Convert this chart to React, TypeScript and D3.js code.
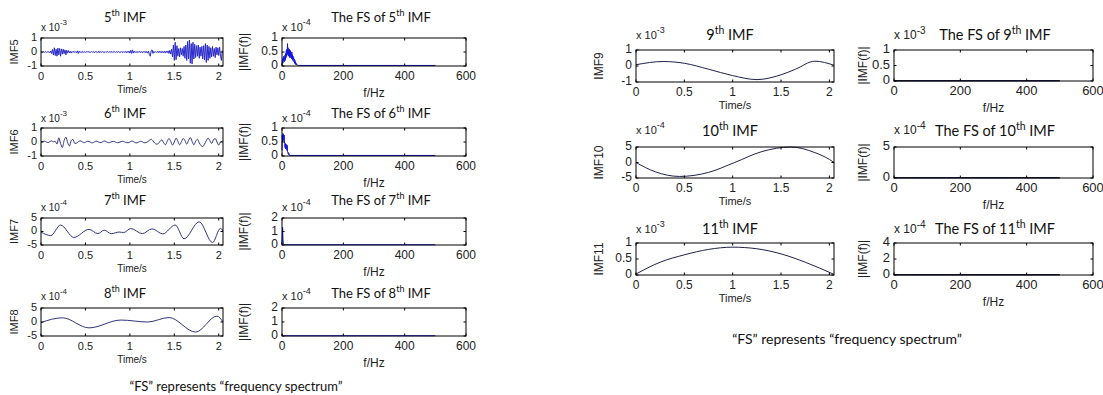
import React from 'react';
import * as d3 from 'd3';

type Pt = [number, number];

// ---- data (amplitudes are in the unit given by each axis exponent) ----
const timeTicks = [0, 0.5, 1, 1.5, 2];
const freqTicks = [0, 200, 400, 600];
const tMax = 2.048;
const fMax = 600;
const fsNyquist = 500;

// IMF5, sampled every 0.01 s (x 10^-3)
const imf5Step = 0.01;
const imf5 = [
  0, 0.02, -0.02, 0.03, -0.02, 0.02, -0.03, 0.02, -0.02, 0.03,
  -0.05, 0.08, -0.12, 0.18, -0.22, 0.3, -0.25, 0.2, -0.3, 0.28,
  -0.2, 0.25, -0.3, 0.22, -0.15, 0.2, -0.12, 0.15, -0.2, 0.12,
  -0.08, 0.1, -0.06, 0.05, -0.08, 0.04, -0.03, 0.05, -0.04, 0.03,
  -0.05, 0.08, -0.1, 0.06, -0.04, 0.03, -0.05, 0.04, -0.03, 0.02,
  -0.03, 0.04, -0.02, 0.05, -0.04, 0.02, -0.03, 0.03, -0.02, 0.04,
  -0.05, 0.03, -0.02, 0.03, -0.04, 0.06, -0.05, 0.03, -0.02, 0.03,
  -0.03, 0.02, -0.04, 0.03, -0.02, 0.04, -0.03, 0.02, -0.03, 0.05,
  -0.04, 0.03, -0.02, 0.03, -0.03, 0.02, -0.04, 0.05, -0.03, 0.02,
  -0.03, 0.04, -0.05, 0.03, -0.02, 0.04, -0.06, 0.05, -0.04, 0.06,
  -0.08, 0.12, -0.1, 0.15, -0.08, 0.06, -0.04, 0.03, -0.05, 0.04,
  -0.03, 0.05, -0.04, 0.03, -0.05, 0.04, -0.03, 0.05, -0.06, 0.04,
  -0.08, 0.06, -0.2, -0.3, 0.1, 0.15, -0.1, 0.05, -0.04, 0.03,
  -0.03, 0.04, -0.05, 0.06, -0.04, 0.05, -0.06, 0.04, -0.05, 0.06,
  -0.08, 0.06, -0.05, 0.08, -0.1, 0.12, -0.15, 0.2, -0.35, 0.5,
  -0.6, 0.7, -0.55, 0.45, -0.3, 0.25, -0.35, 0.3, -0.2, 0.25,
  -0.3, 0.4, -0.45, 0.5, -0.6, 0.75, -0.5, 0.85, -0.8, 0.6,
  -0.85, 0.7, -0.5, 0.55, -0.4, 0.45, -0.3, 0.5, -0.45, 0.35,
  -0.3, 0.4, -0.5, 0.45, -0.55, 0.6, -0.75, 0.5, -0.6, 0.4,
  -0.45, 0.3, -0.35, 0.4, -0.3, 0.25, -0.4, 0.35, -0.2, 0.3,
  -0.25, 0.35, -0.3, -0.6, 0.1,
];

// IMF6, sampled every 0.02 s (x 10^-3)
const imf6Step = 0.02;
const imf6 = [
  0, 0.04, 0.06, 0.0, -0.04, 0.03, 0.08, 0.02, 0.05, -0.15,
  0.3, -0.1, -0.4, 0.1, 0.35, -0.05, -0.28, 0.1, 0.18, -0.1,
  -0.08, 0.02, 0.08, 0.03, -0.05, -0.02, 0.05, 0.04, -0.03, -0.06,
  0.0, 0.06, 0.02, -0.04, -0.03, 0.04, 0.07, 0.0, -0.05, -0.02,
  0.03, 0.05, -0.01, -0.05, -0.03, 0.02, 0.05, 0.01, -0.04, -0.05,
  0.0, 0.06, 0.03, -0.05, -0.06, 0.0, 0.05, 0.02, -0.06, -0.04,
  0.02, 0.12, 0.2, 0.08, -0.08, -0.15, -0.12, 0.05, 0.15, -0.05,
  -0.2, 0.05, 0.25, 0.05, -0.22, 0.0, 0.28, 0.05, -0.2, 0.02,
  0.25, 0.1, -0.15, 0.1, 0.32, 0.05, -0.2, 0.05, 0.2, -0.05,
  -0.25, -0.32, -0.15, 0.1, 0.28, 0.1, -0.1, 0.15, 0.25, 0.0,
  -0.22, 0.0, 0.05,
];

// slower IMFs, read at their turning points [time s, value]
const imf7: Pt[] = [
  [0, -0.2], [0.11, -1.5], [0.22, 2.4], [0.37, -2.2], [0.54, 0.8], [0.64, -0.8],
  [0.71, 0.5], [0.79, -0.8], [0.88, -0.2], [0.93, -0.4], [1.01, 1.1], [1.14, -0.8],
  [1.25, 1.0], [1.37, -0.9], [1.51, 2.4], [1.61, -2.7], [1.78, 3.6], [1.93, -4.1],
  [2.02, 1.2], [2.048, 0.2],
];
const imf8: Pt[] = [
  [0, -0.2], [0.24, 1.5], [0.54, -2.1], [0.9, 0.7], [1.2, 0.0], [1.44, 1.6],
  [1.74, -3.6], [1.98, 2.1], [2.048, 0.0],
];
const imf9: Pt[] = [
  [0, 0.08], [0.28, 0.28], [0.5, 0.17], [0.75, -0.2], [1.0, -0.6], [1.25, -0.85],
  [1.5, -0.55], [1.65, -0.2], [1.85, 0.3], [2.048, 0.05],
];
const imf10: Pt[] = [
  [0, 0], [0.2, -3.0], [0.45, -4.5], [0.75, -3.2], [1.02, 0], [1.3, 3.5],
  [1.6, 5.0], [1.85, 3.2], [2.0, 1.0], [2.048, 0],
];
const imf11: Pt[] = [
  [0, 0.03], [0.25, 0.4], [0.5, 0.63], [0.75, 0.8], [1.0, 0.87], [1.25, 0.82],
  [1.5, 0.66], [1.75, 0.4], [2.048, 0.02],
];

// spectra: low-frequency bins at 1 Hz, then a flat tail up to 500 Hz
const fs5 = [
  0.05, 0.15, 0.25, 0.1, 0.3, 0.2, 0.35, 0.15, 0.3, 0.25,
  0.4, 0.2, 0.45, 0.3, 0.55, 0.35, 0.6, 0.4, 0.8, 0.45,
  0.65, 0.35, 0.55, 0.4, 0.6, 0.3, 0.5, 0.35, 0.55, 0.3,
  0.45, 0.25, 0.5, 0.3, 0.4, 0.2, 0.35, 0.25, 0.3, 0.15,
  0.25, 0.1, 0.2, 0.08, 0.15, 0.05, 0.1, 0.04, 0.06, 0.03,
  0.04, 0.02, 0.03, 0.02, 0.02, 0.02,
];
const fs6 = [
  0.2, 0.75, 0.5, 0.8, 0.6, 0.78, 0.55, 0.75, 0.5, 0.45,
  0.3, 0.45, 0.25, 0.42, 0.3, 0.4, 0.2, 0.38, 0.15, 0.12,
  0.08, 0.12, 0.05, 0.08, 0.03, 0.02,
];
const fs7 = [0.05, 0.6, 1.3, 0.5, 0.15, 0.08, 0.04, 0.03, 0.02];
const fs8 = [0.03, 0.12, 0.08, 0.04, 0.02, 0.02];
const fs9 = [0.02, 0.01, 0.01, 0.01];
const fs10 = [0.1, 0.05, 0.05, 0.05];
const fs11 = [0.1, 0.05, 0.04, 0.04];

const sampled = (vals: number[], step: number): Pt[] => vals.map((v, i) => [i * step, v]);
const spectrum = (bins: number[]): Pt[] => {
  const pts: Pt[] = bins.map((v, i) => [i, v]);
  pts.push([fsNyquist, bins[bins.length - 1]]);
  return pts;
};

// ---- layout ----
const tickFont = 'Liberation Sans, Arial, sans-serif';
const textFont = 'Lato, "Open Sans", sans-serif';

type Col = { x0: number; x1: number; titleX: number; yLabelX: number; tick: number; xLab: number; yLab: number; title: number };
const cols: Record<string, Col> = {
  lt: { x0: 41, x1: 223, titleX: 125, yLabelX: 15, tick: 11, xLab: 10, yLab: 11, title: 13 },
  lf: { x0: 282, x1: 466, titleX: 381, yLabelX: 245, tick: 12, xLab: 12, yLab: 12, title: 13 },
  rt: { x0: 636, x1: 834, titleX: 730, yLabelX: 600, tick: 12, xLab: 11, yLab: 12, title: 14.5 },
  rf: { x0: 894, x1: 1093, titleX: 995, yLabelX: 864, tick: 13, xLab: 12, yLab: 12, title: 14.5 },
};

type PanelDef = {
  col: Col; kind: 'time' | 'fs'; top: number; h: number; titleY: number; expY: number;
  n: number; pts: Pt[]; yDomain: [number, number]; yTicks: number[]; exp: number;
  color: string; width: number; smooth: boolean;
};

const leftRows = [
  { top: 38, titleY: 19, expY: 28 },
  { top: 128, titleY: 115, expY: 119 },
  { top: 218, titleY: 202, expY: 208 },
  { top: 308, titleY: 295, expY: 297 },
];
const rightRows = [
  { top: 50, titleY: 36, expY: 36 },
  { top: 147, titleY: 132, expY: 131 },
  { top: 243, titleY: 230, expY: 230 },
];

const navy = '#333380';
const blue = '#1515e0';

const panels: PanelDef[] = [
  { col: cols.lt, kind: 'time', ...leftRows[0], h: 28, n: 5, pts: sampled(imf5, imf5Step), yDomain: [-1, 1], yTicks: [-1, 0, 1], exp: -3, color: '#2a2ac8', width: 1, smooth: false },
  { col: cols.lf, kind: 'fs', ...leftRows[0], h: 28, n: 5, pts: spectrum(fs5), yDomain: [0, 1], yTicks: [0, 0.5, 1], exp: -4, color: blue, width: 1, smooth: false },
  { col: cols.lt, kind: 'time', ...leftRows[1], h: 28, n: 6, pts: sampled(imf6, imf6Step), yDomain: [-1, 1], yTicks: [-1, 0, 1], exp: -3, color: navy, width: 1, smooth: true },
  { col: cols.lf, kind: 'fs', ...leftRows[1], h: 28, n: 6, pts: spectrum(fs6), yDomain: [0, 1], yTicks: [0, 0.5, 1], exp: -4, color: blue, width: 1, smooth: false },
  { col: cols.lt, kind: 'time', ...leftRows[2], h: 27, n: 7, pts: imf7, yDomain: [-5, 5], yTicks: [-5, 0, 5], exp: -4, color: navy, width: 1, smooth: true },
  { col: cols.lf, kind: 'fs', ...leftRows[2], h: 27, n: 7, pts: spectrum(fs7), yDomain: [0, 2], yTicks: [0, 1, 2], exp: -4, color: blue, width: 1, smooth: false },
  { col: cols.lt, kind: 'time', ...leftRows[3], h: 28, n: 8, pts: imf8, yDomain: [-5, 5], yTicks: [-5, 0, 5], exp: -4, color: navy, width: 1, smooth: true },
  { col: cols.lf, kind: 'fs', ...leftRows[3], h: 28, n: 8, pts: spectrum(fs8), yDomain: [0, 2], yTicks: [0, 1, 2], exp: -4, color: blue, width: 1, smooth: false },
  { col: cols.rt, kind: 'time', ...rightRows[0], h: 32, n: 9, pts: imf9, yDomain: [-1, 1], yTicks: [-1, 0, 1], exp: -3, color: '#20204a', width: 1, smooth: true },
  { col: cols.rf, kind: 'fs', ...rightRows[0], h: 31, n: 9, pts: spectrum(fs9), yDomain: [0, 1], yTicks: [0, 0.5, 1], exp: -3, color: '#20204a', width: 1.5, smooth: false },
  { col: cols.rt, kind: 'time', ...rightRows[1], h: 31, n: 10, pts: imf10, yDomain: [-5, 5], yTicks: [-5, 0, 5], exp: -4, color: '#20204a', width: 1, smooth: true },
  { col: cols.rf, kind: 'fs', ...rightRows[1], h: 31, n: 10, pts: spectrum(fs10), yDomain: [0, 5], yTicks: [0, 5], exp: -4, color: '#20204a', width: 1.5, smooth: false },
  { col: cols.rt, kind: 'time', ...rightRows[2], h: 32, n: 11, pts: imf11, yDomain: [0, 1], yTicks: [0, 0.5, 1], exp: -3, color: '#20204a', width: 1, smooth: true },
  { col: cols.rf, kind: 'fs', ...rightRows[2], h: 32, n: 11, pts: spectrum(fs11), yDomain: [0, 4], yTicks: [0, 2, 4], exp: -4, color: '#20204a', width: 1.5, smooth: false },
];

const Panel = ({ p }: { p: PanelDef }) => {
  const { col, top, h } = p;
  const bottom = top + h;
  const isTime = p.kind === 'time';
  const x = d3.scaleLinear().domain([0, isTime ? tMax : fMax]).range([col.x0, col.x1]);
  const y = d3.scaleLinear().domain(p.yDomain).range([bottom, top]);
  const xt = isTime ? timeTicks : freqTicks;
  const line = d3.line<Pt>()
    .x(d => x(d[0]))
    .y(d => y(d[1]))
    .curve(p.smooth ? d3.curveMonotoneX : d3.curveLinear);
  const tl = 2.5;
  const midY = (top + bottom) / 2;

  return (
    <g>
      <path d={line(p.pts) || ''} fill="none" stroke={p.color} strokeWidth={p.width} />
      <rect x={col.x0} y={top} width={col.x1 - col.x0} height={h} fill="none" stroke="#000" strokeWidth={1} />
      {xt.map(t => (
        <g key={'x' + t}>
          <line x1={x(t)} x2={x(t)} y1={bottom} y2={bottom - tl} stroke="#000" />
          <line x1={x(t)} x2={x(t)} y1={top} y2={top + tl} stroke="#000" />
          <text x={x(t)} y={bottom + 11} textAnchor="middle" dominantBaseline="middle"
            fontFamily={tickFont} fontSize={col.tick} fill="#222">{String(t)}</text>
        </g>
      ))}
      {p.yTicks.map(v => (
        <g key={'y' + v}>
          <line x1={col.x0} x2={col.x0 + tl} y1={y(v)} y2={y(v)} stroke="#000" />
          <line x1={col.x1} x2={col.x1 - tl} y1={y(v)} y2={y(v)} stroke="#000" />
          <text x={col.x0 - 4} y={y(v)} textAnchor="end" dominantBaseline="middle"
            fontFamily={tickFont} fontSize={col.tick} fill="#222">{String(v)}</text>
        </g>
      ))}
      <text x={col.x0} y={p.expY} dominantBaseline="middle" fontFamily={tickFont} fontSize={col.tick - 1} fill="#222">
        x 10<tspan dy={-5} fontSize={col.tick - 3}>{String(p.exp)}</tspan>
      </text>
      <text x={col.titleX} y={p.titleY} textAnchor="middle" dominantBaseline="middle" fontFamily={textFont} fontSize={col.title} fill="#111">
        {isTime ? '' : 'The FS of '}{p.n}<tspan dy={-5} fontSize={col.title - 4}>th</tspan><tspan dy={5}> IMF</tspan>
      </text>
      <text x={(col.x0 + col.x1) / 2} y={bottom + (isTime ? 24 : 28)} textAnchor="middle" dominantBaseline="middle"
        fontFamily={tickFont} fontSize={col.xLab} fill="#222">{isTime ? 'Time/s' : 'f/Hz'}</text>
      <text transform={`translate(${col.yLabelX},${midY}) rotate(-90)`} textAnchor="middle" dominantBaseline="middle"
        fontFamily={tickFont} fontSize={col.yLab} fill="#222">{isTime ? `IMF${p.n}` : '|IMF(f)|'}</text>
    </g>
  );
};

const caption = '\u201cFS\u201d represents \u201cfrequency spectrum\u201d';

const App = () => (
  <svg width={1103} height={395} style={{ position: 'absolute', left: 0, top: 0, background: '#fff' }}>
    {panels.map((p, i) => <Panel key={i} p={p} />)}
    <text x={236} y={388} textAnchor="middle" dominantBaseline="middle" fontFamily={textFont} fontSize={13} fill="#111">{caption}</text>
    <text x={847} y={340} textAnchor="middle" dominantBaseline="middle" fontFamily={textFont} fontSize={14} fill="#111">{caption}</text>
  </svg>
);

export default App;
